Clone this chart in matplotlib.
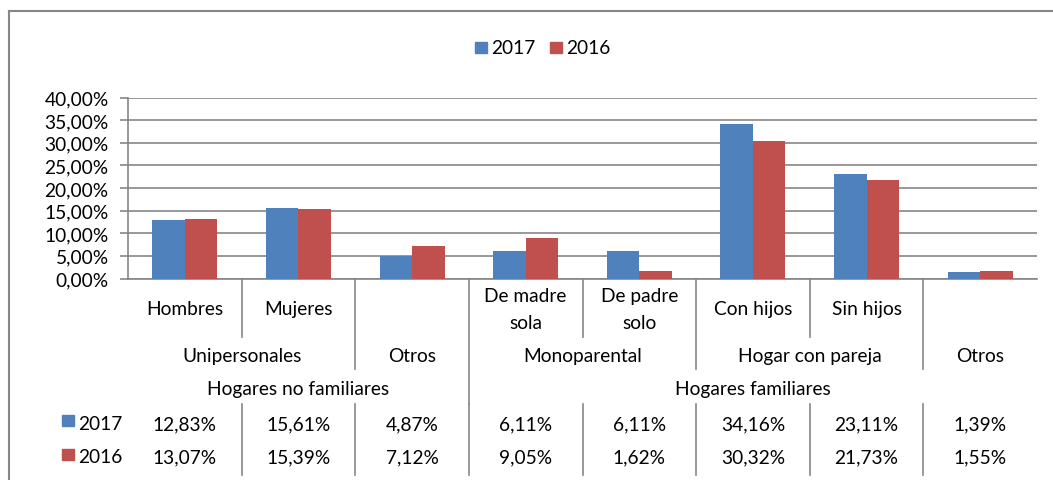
import matplotlib
matplotlib.use("Agg")
import matplotlib.pyplot as plt
from matplotlib.transforms import blended_transform_factory
from matplotlib.lines import Line2D
from matplotlib.patches import Rectangle

# ---- data ----
level1 = ["Hombres", "Mujeres", "", "De madre\nsola", "De padre\nsolo", "Con hijos", "Sin hijos", ""]
level2 = [("Unipersonales", 0, 2), ("Otros", 2, 3), ("Monoparental", 3, 5),
          ("Hogar con pareja", 5, 7), ("Otros", 7, 8)]
level3 = [("Hogares no familiares", 0, 3), ("Hogares familiares", 3, 8)]
series_names = ["2017", "2016"]
v2017 = [12.83, 15.61, 4.87, 6.11, 6.11, 34.16, 23.11, 1.39]
v2016 = [13.07, 15.39, 7.12, 9.05, 1.62, 30.32, 21.73, 1.55]
yticks = [0, 5, 10, 15, 20, 25, 30, 35, 40]

colors = ["#4F81BD", "#C0504D"]
grid_c = "#868686"
W, H = 1053, 481
FONT = ["Lato", "DejaVu Sans"]
plt.rcParams['font.family'] = FONT
FS = 13.8

fig = plt.figure(figsize=(W / 100, H / 100), dpi=100)
L, R, T, B = 128, 1037, 98.5, 279.5
ax = fig.add_axes([L / W, 1 - B / H, (R - L) / W, (B - T) / H])

n = len(v2017)
bw = 0.286
xs = [i + 0.5 for i in range(n)]
ax.bar([x - bw / 2 for x in xs], v2017, width=bw, color=colors[0], zorder=3)
ax.bar([x + bw / 2 for x in xs], v2016, width=bw, color=colors[1], zorder=3)
ax.set_xlim(0, n)
ax.set_ylim(0, 40)
ax.set_yticks(yticks)
ax.set_yticklabels([f"{t:.2f}%".replace(".", ",") for t in yticks], fontsize=FS)
ax.tick_params(axis='y', length=6, color=grid_c, width=1.2, pad=8)
ax.set_xticks([])
ax.yaxis.grid(True, color=grid_c, linewidth=1.2, zorder=0)
ax.set_axisbelow(True)
for s in ["top", "right"]:
    ax.spines[s].set_visible(False)
ax.spines["left"].set_color(grid_c)
ax.spines["left"].set_linewidth(1.2)
ax.spines["bottom"].set_color(grid_c)
ax.spines["bottom"].set_linewidth(1.2)

tr = blended_transform_factory(ax.transData, fig.transFigure)

def fy(py):
    return 1 - py / H

def vline(x, y0, y1):
    fig.add_artist(Line2D([x, x], [fy(y0), fy(y1)], transform=tr, color=grid_c, lw=1.2))

def btext(x, py, s, transform=tr, ha="center"):
    fig.text(x, fy(py), s, transform=transform, ha=ha, va="baseline", fontsize=FS)

# category level 1 labels
for i, lab in enumerate(level1):
    if not lab:
        continue
    lines = lab.split("\n")
    if len(lines) == 1:
        btext(xs[i], 315.5, lines[0])
    else:
        btext(xs[i], 302, lines[0])
        btext(xs[i], 329, lines[1])
# dividers
for b in range(1, n):
    if b == 3:
        vline(b, 280, 405)
    elif b in (2, 5, 7):
        vline(b, 280, 370)
    else:
        vline(b, 280, 338)
for lab, a, b in level2:
    btext((a + b) / 2, 362, lab)
for lab, a, b in level3:
    btext((a + b) / 2, 395, lab)

# data table
rows_y = [430, 463.5]
for vals, py in zip([v2017, v2016], rows_y):
    for i, v in enumerate(vals):
        btext(xs[i], py, f"{v:.2f}%".replace(".", ","))
for b in range(1, n):
    vline(b, 405, 476)
for name, c, py in zip(series_names, colors, rows_y):
    fig.add_artist(Rectangle((62 / W, fy(py - 3)), 11.5 / W, 11 / H,
                             transform=fig.transFigure, color=c))
    btext(78 / W, py, name, transform=fig.transFigure, ha="left")

# legend
for name, c, x0 in zip(series_names, colors, [475, 550]):
    fig.add_artist(Rectangle((x0 / W, fy(54)), 12 / W, 11 / H,
                             transform=fig.transFigure, color=c))
    btext((x0 + 16) / W, 54.3, name, transform=fig.transFigure, ha="left")

# outer border (top and left only visible)
fig.add_artist(Line2D([9 / W, 1.0], [fy(12), fy(12)], transform=fig.transFigure,
                      color=grid_c, lw=1.5))
fig.add_artist(Line2D([9 / W, 9 / W], [fy(12), 0], transform=fig.transFigure,
                      color=grid_c, lw=1.5))

fig.savefig("out.png", dpi=100)
